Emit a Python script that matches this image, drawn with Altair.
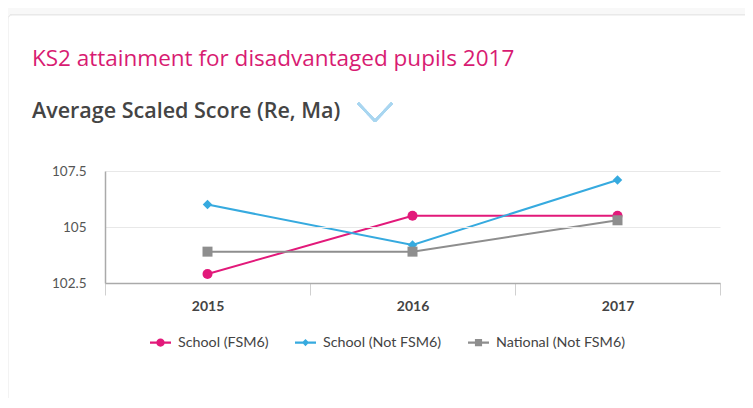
import altair as alt
import pandas as pd

years = ["2015", "2016", "2017"]
series_names = ["School (FSM6)", "School (Not FSM6)", "National (Not FSM6)"]
school_fsm6 = [102.9, 105.5, 105.5]
school_not_fsm6 = [106.0, 104.2, 107.1]
national_not_fsm6 = [103.9, 103.9, 105.3]
colors = ["#e2197a", "#36aadf", "#8e8e8e"]
y_ticks = [102.5, 105, 107.5]

rows = []
for name, vals in zip(series_names, [school_fsm6, school_not_fsm6, national_not_fsm6]):
    for yr, v in zip(years, vals):
        rows.append({"year": yr, "series": name, "value": v})
df = pd.DataFrame(rows)

FONT = "Lato"
TFONT = "Open Sans"

cscale = alt.Scale(domain=series_names, range=colors)
x = alt.X("year:O", title=None, bandPosition=0.5,
          scale=alt.Scale(type="band", paddingInner=0, paddingOuter=0),
          axis=alt.Axis(tickBand="extent", labelAngle=0, labelFont=FONT, labelFontSize=14,
                        labelFontWeight="bold", labelColor="#444", labelPadding=4,
                        tickSize=12, tickColor="#d0d0d0", domainColor="#aaaaaa",
                        domainWidth=1.5, grid=False, zindex=1))
y = alt.Y("value:Q", title=None,
          scale=alt.Scale(domain=[102.5, 107.5], nice=False, zero=False),
          axis=alt.Axis(values=y_ticks, labelExpr="'' + datum.value", ticks=False,
                        domainColor="#aaaaaa", domainWidth=1.5, gridColor="#e8e8e8",
                        labelFont=FONT, labelFontSize=13.5, labelColor="#555",
                        labelPadding=19, zindex=1))

base = alt.Chart(df)

card = base.mark_rect(fill="white", stroke="#e8e8e8", strokeWidth=1, cornerRadius=4).encode(
    x=alt.value(-97), x2=alt.value(660), y=alt.value(-156), y2=alt.value(260))

lines = base.mark_line(strokeWidth=2).encode(
    x=x, y=y, color=alt.Color("series:N", scale=cscale, legend=None), detail="series:N")

shapes = ["circle", "diamond", "square"]
sizes = [100, 90, 100]
point_layers = []
for name, shp, sz in zip(series_names, shapes, sizes):
    point_layers.append(
        base.transform_filter(alt.datum.series == name)
        .mark_point(filled=True, opacity=1, shape=shp, size=sz)
        .encode(x=x, y=y, color=alt.Color("series:N", scale=cscale, legend=None)))

line_bar = "M-1,-0.11H1V0.11H-1Z "
legend_paths = [
    line_bar + "M-0.4,0A0.4,0.4 0 1,1 0.4,0A0.4,0.4 0 1,1 -0.4,0Z",
    line_bar + "M0,-0.34L0.34,0L0,0.34L-0.34,0Z",
    line_bar + "M-0.34,-0.34H0.34V0.34H-0.34Z",
]
leg = alt.Legend(title=None, orient="none", legendX=45, legendY=161, direction="horizontal",
                 symbolSize=441, symbolStrokeWidth=0, symbolOpacity=1,
                 labelFont=FONT, labelFontSize=14.3, labelColor="#444",
                 labelOffset=7, columnPadding=26, padding=0, zindex=1)
legend_layer = base.mark_point(filled=True, opacity=0, size=441).encode(
    x=x, y=y,
    color=alt.Color("series:N", scale=cscale, legend=leg),
    shape=alt.Shape("series:N", scale=alt.Scale(domain=series_names, range=legend_paths), legend=leg),
)

chev_color = "#a9d6f0"
chev1 = base.mark_rule(strokeWidth=2.5, color=chev_color).encode(
    x=alt.value(253), x2=alt.value(270), y=alt.value(-68), y2=alt.value(-50))
chev2 = base.mark_rule(strokeWidth=2.5, color=chev_color).encode(
    x=alt.value(270), x2=alt.value(287), y=alt.value(-50), y2=alt.value(-68))

chart = alt.layer(card, lines, *point_layers, legend_layer, chev1, chev2).resolve_legend(
    color="independent", shape="independent"
).properties(
    width=615, height=112,
    padding={"left": 97, "top": 163, "right": 25, "bottom": 115},
    autosize=alt.AutoSizeParams(type="none"),
    title=alt.TitleParams(
        text="KS2 attainment for disadvantaged pupils 2017",
        subtitle="Average Scaled Score (Re, Ma)",
        anchor="start", frame="group", dx=-73, dy=148, offset=40, zindex=1,
        font=TFONT, fontSize=22.5, fontWeight="normal", color="#d81b72",
        subtitleFont=TFONT, subtitleFontSize=21.5, subtitleFontWeight=600,
        subtitleColor="#444", subtitlePadding=31),
).configure_view(stroke=None).configure(background="#f8f8f8")

chart.save("out.html", embed_options={"renderer": "svg", "actions": False})
